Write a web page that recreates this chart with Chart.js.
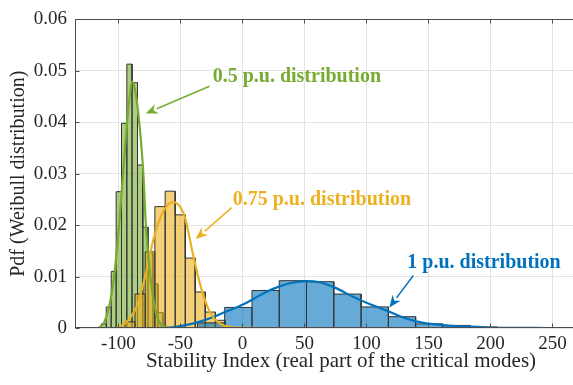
<!DOCTYPE html>
<html>
<head>
<meta charset="utf-8">
<script src="https://cdn.jsdelivr.net/npm/chart.js@4"></script>
<style>
html, body { margin: 0; padding: 0; background: #fff; overflow: hidden; }
</style>
</head>
<body>
<!-- the original figure is cropped on the right, so the canvas runs past the window -->
<canvas id="wtkChart" width="608" height="385"></canvas>
<script>
// tick labels
var xTicks = [-100, -50, 0, 50, 100, 150, 200, 250];
var yTicks = [0, 0.01, 0.02, 0.03, 0.04, 0.05, 0.06];

// histogram bins (edges + heights)
var greenEdges = [-113.8, -109.8, -105.8, -101.8, -97.5, -93.2, -89.0, -84.6, -80.3, -76.1, -72.1, -68.1, -64.0];
var greenHeights = [0.0008, 0.0041, 0.0110, 0.0265, 0.0398, 0.0513, 0.0477, 0.0317, 0.0196, 0.0145, 0.0086, 0.0030];

var yellowEdges = [-94.7, -86.6, -78.4, -70.6, -62.3, -54.2, -46.1, -38.1, -30.0, -21.8, -13.7];
var yellowHeights = [0.0012, 0.0066, 0.0148, 0.0236, 0.0266, 0.0220, 0.0136, 0.0070, 0.0031, 0.0015];

var blueEdges = [-36.2, -14.3, 7.7, 29.7, 51.7, 73.7, 95.7, 117.7, 139.7, 161.7, 183.7, 205.7];
var blueHeights = [0.0010, 0.0040, 0.0073, 0.0092, 0.0090, 0.0066, 0.0041, 0.0022, 0.0008, 0.0005, 0.0002];

// fitted pdf curves
var greenCurveX = [-116, -112, -107, -103, -99, -95, -91.5, -88.8, -86, -83, -80, -77.5, -73.5, -69.5, -65.5, -60];
var greenCurveY = [0, 0.0008, 0.0047, 0.0110, 0.0214, 0.0340, 0.0438, 0.0479, 0.0455, 0.0395, 0.0305, 0.0185, 0.0086, 0.0028, 0.0006, 0];

var yellowCurveX = [-100, -92, -84, -78, -72, -66, -60, -56, -50, -46, -40, -33, -26, -18, -10, 0, 12];
var yellowCurveY = [0.0002, 0.0015, 0.0050, 0.0105, 0.0170, 0.0215, 0.0240, 0.0245, 0.0235, 0.0212, 0.0145, 0.0075, 0.0030, 0.0008, 0.0002, 0.00005, 0];

var blueCurveX = [-68, -55, -45, -35, -25, -14, 0, 10, 20, 30, 40, 52, 62, 75, 89, 102, 116, 128, 140, 152, 164, 180, 200, 220, 245];
var blueCurveY = [0, 0.0002, 0.0006, 0.0012, 0.0020, 0.0031, 0.0045, 0.0058, 0.0071, 0.0081, 0.0088, 0.0091, 0.0089, 0.0078, 0.0061, 0.0047, 0.0034, 0.0022, 0.0013, 0.0008, 0.0005, 0.0003, 0.0001, 0.00004, 0];

var annoText = ['0.5 p.u. distribution', '0.75 p.u. distribution', '1 p.u. distribution'];

var serifFont = "'Liberation Serif', 'Times New Roman', serif";
var axisColor = '#262626';

function histPoints(edges, heights) {
    var pts = [{x: edges[0], y: 0}];
    for (var i = 0; i < heights.length; i++) {
        pts.push({x: edges[i], y: heights[i]});
        pts.push({x: edges[i + 1], y: heights[i]});
        pts.push({x: edges[i + 1], y: 0});
    }
    return pts;
}

function curvePoints(xs, ys) {
    var pts = [];
    for (var i = 0; i < xs.length; i++) {
        pts.push({x: xs[i], y: ys[i]});
    }
    return pts;
}

// annotation placement (data coords)
var annoList = [
    {text: annoText[0], color: '#77AC30', tx: -24, ty: 0.0488, ax0: -26.5, ay0: 0.0470, ax1: -78.0, ay1: 0.0417},
    {text: annoText[1], color: '#EDB120', tx: -7.8, ty: 0.0250, ax0: -8.6, ay0: 0.0234, ax1: -37.6, ay1: 0.0173},
    {text: annoText[2], color: '#0072BD', tx: 133, ty: 0.0127, ax0: 137.8, ay0: 0.0102, ax1: 118.5, ay1: 0.0040}
];

var wtkBoxPlugin = {
    id: 'wtkBox',
    afterDraw: function (chart) {
        var a = chart.chartArea;
        var ctx = chart.ctx;
        var xs = chart.scales.x;
        var ys = chart.scales.y;
        ctx.save();
        ctx.strokeStyle = '#4d4d4d';
        ctx.lineWidth = 1;
        var l = Math.round(a.left) + 0.5, r = Math.round(a.right) - 0.5;
        var t = Math.round(a.top) + 0.5, b = Math.round(a.bottom) - 0.5;
        ctx.strokeRect(l, t, r - l, b - t);
        // inward tick marks
        ctx.beginPath();
        xTicks.forEach(function (v) {
            var px = Math.round(xs.getPixelForValue(v)) + 0.5;
            ctx.moveTo(px, b); ctx.lineTo(px, b - 4);
            ctx.moveTo(px, t); ctx.lineTo(px, t + 4);
        });
        yTicks.forEach(function (v) {
            var py = Math.round(ys.getPixelForValue(v)) + 0.5;
            ctx.moveTo(l, py); ctx.lineTo(l + 4, py);
            ctx.moveTo(r, py); ctx.lineTo(r - 4, py);
        });
        ctx.stroke();

        // annotations
        annoList.forEach(function (an) {
            ctx.fillStyle = an.color;
            ctx.strokeStyle = an.color;
            ctx.font = 'bold 20px ' + serifFont;
            ctx.textAlign = 'left';
            ctx.textBaseline = 'middle';
            ctx.fillText(an.text, xs.getPixelForValue(an.tx), ys.getPixelForValue(an.ty));
            var x0 = xs.getPixelForValue(an.ax0), y0 = ys.getPixelForValue(an.ay0);
            var x1 = xs.getPixelForValue(an.ax1), y1 = ys.getPixelForValue(an.ay1);
            var ang = Math.atan2(y1 - y0, x1 - x0);
            var hl = 12, hw = 5;
            var bx = x1 - hl * Math.cos(ang), by = y1 - hl * Math.sin(ang);
            ctx.lineWidth = 1.5;
            ctx.beginPath();
            ctx.moveTo(x0, y0);
            ctx.lineTo(bx, by);
            ctx.stroke();
            ctx.beginPath();
            ctx.moveTo(x1, y1);
            ctx.lineTo(bx + hw * Math.sin(ang), by - hw * Math.cos(ang));
            ctx.lineTo(x1 - 0.7 * hl * Math.cos(ang), y1 - 0.7 * hl * Math.sin(ang));
            ctx.lineTo(bx - hw * Math.sin(ang), by + hw * Math.cos(ang));
            ctx.closePath();
            ctx.fill();
        });
        ctx.restore();
    }
};

var wtkConfig = {
    type: 'line',
    data: {
        datasets: [
            {data: curvePoints(greenCurveX, greenCurveY), borderColor: '#77AC30', borderWidth: 2.2, fill: false, cubicInterpolationMode: 'monotone', order: 0},
            {data: curvePoints(yellowCurveX, yellowCurveY), borderColor: '#EDB120', borderWidth: 2.2, fill: false, cubicInterpolationMode: 'monotone', order: 0},
            {data: curvePoints(blueCurveX, blueCurveY), borderColor: '#0072BD', borderWidth: 2.2, fill: false, cubicInterpolationMode: 'monotone', order: 0},
            {data: histPoints(blueEdges, blueHeights), borderColor: '#333333', borderWidth: 1, backgroundColor: 'rgba(0,114,189,0.6)', fill: 'origin', tension: 0, order: 1},
            {data: histPoints(yellowEdges, yellowHeights), borderColor: '#333333', borderWidth: 1, backgroundColor: 'rgba(237,177,32,0.6)', fill: 'origin', tension: 0, order: 2},
            {data: histPoints(greenEdges, greenHeights), borderColor: '#333333', borderWidth: 1, backgroundColor: 'rgba(119,172,48,0.6)', fill: 'origin', tension: 0, order: 3}
        ]
    },
    options: {
        responsive: false,
        animation: false,
        events: [],
        layout: {padding: {top: 15, right: 1, left: 0, bottom: 0}},
        elements: {point: {radius: 0}},
        plugins: {legend: {display: false}, tooltip: {enabled: false}},
        scales: {
            x: {
                type: 'linear',
                min: -135,
                max: 294,
                afterFit: function (scale) { scale.height = 57; },
                afterBuildTicks: function (scale) { scale.ticks = xTicks.map(function (v) { return {value: v}; }); },
                grid: {color: '#e3e3e3', drawTicks: false},
                border: {display: false},
                ticks: {
                    padding: 5,
                    color: axisColor,
                    font: {family: serifFont, size: 19},
                    maxRotation: 0,
                    callback: function (v) { return String(v); }
                },
                title: {display: true, text: 'Stability Index (real part of the critical modes)', color: axisColor, font: {family: serifFont, size: 21}, padding: {top: 0, bottom: 11}}
            },
            y: {
                type: 'linear',
                min: 0,
                max: 0.06,
                afterFit: function (scale) { scale.width = 75; },
                afterBuildTicks: function (scale) { scale.ticks = yTicks.map(function (v) { return {value: v}; }); },
                grid: {color: '#e3e3e3', drawTicks: false},
                border: {display: false},
                ticks: {
                    padding: 8,
                    color: axisColor,
                    font: {family: serifFont, size: 19},
                    callback: function (v) { return v === 0 ? '0' : v.toFixed(2); }
                },
                title: {display: true, text: 'Pdf (Weibull distribution)', color: axisColor, font: {family: serifFont, size: 20}, padding: {top: 7, bottom: 0}}
            }
        }
    },
    plugins: [wtkBoxPlugin]
};

var wtkChart = new Chart(document.getElementById('wtkChart').getContext('2d'), wtkConfig);
</script>
</body>
</html>
